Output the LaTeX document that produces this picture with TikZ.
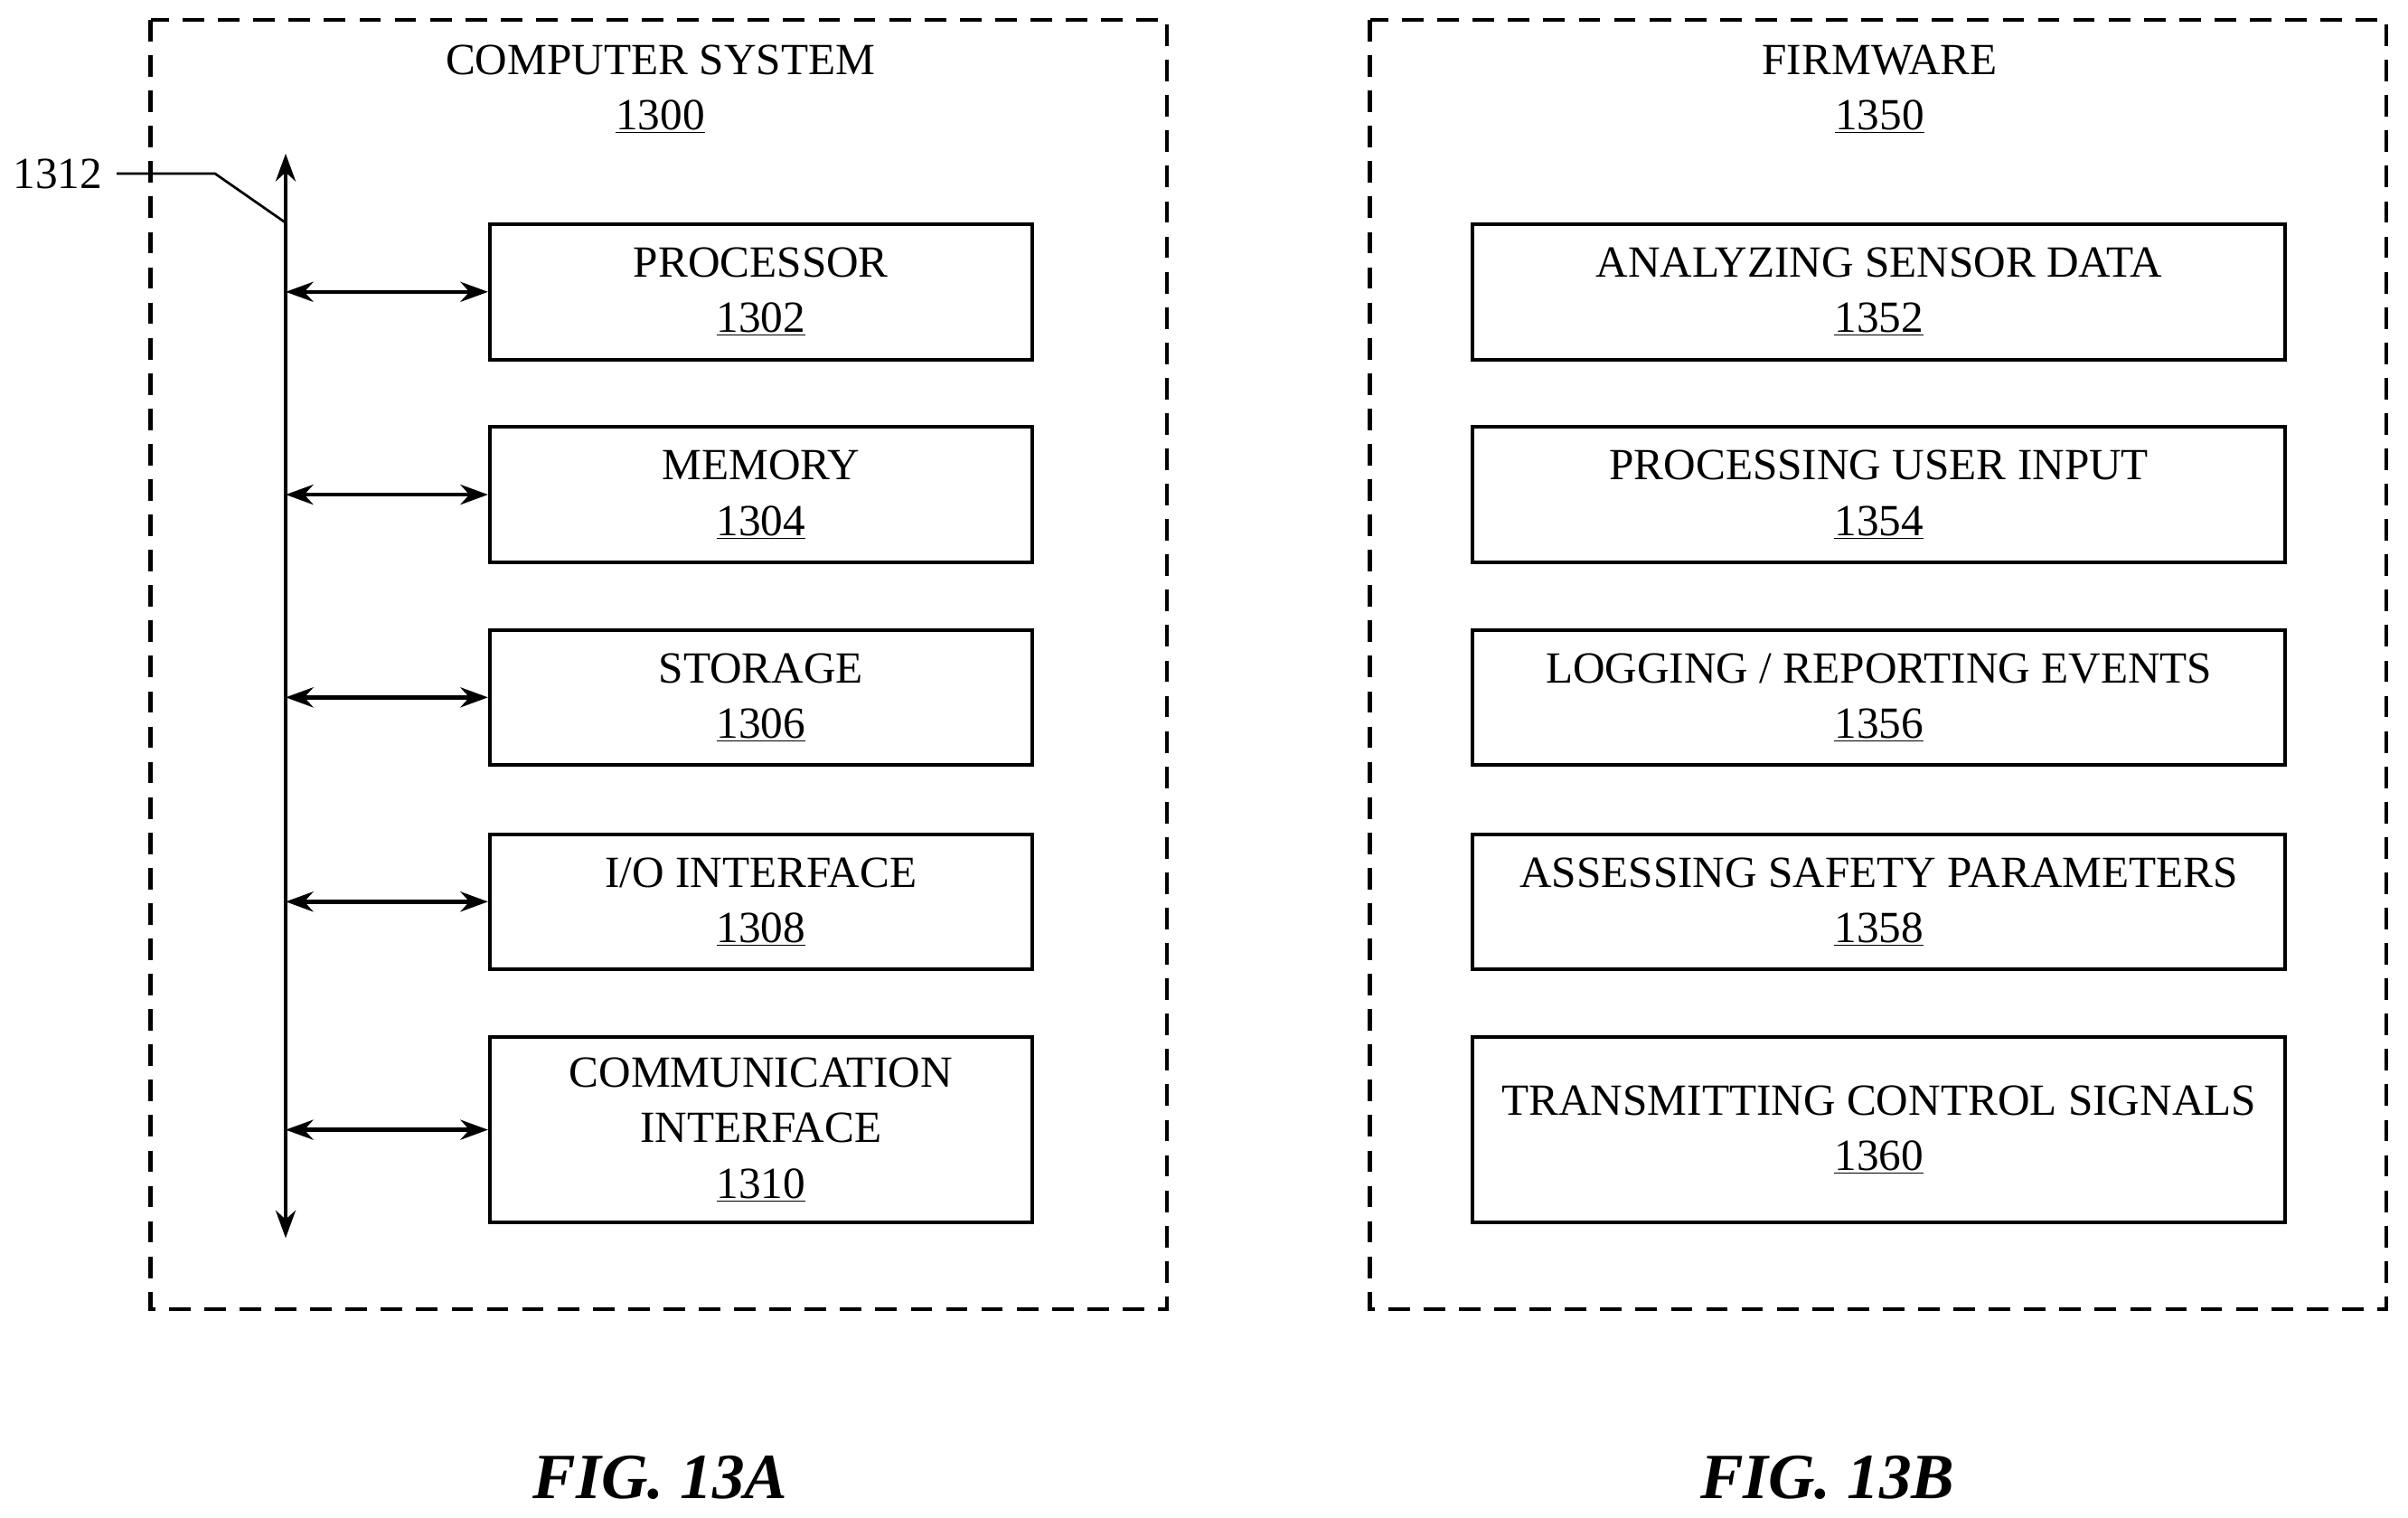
\documentclass[tikz,border=0pt]{standalone}
\usepackage{fontspec}
\setmainfont{Liberation Serif}
\usetikzlibrary{arrows.meta}
\tikzset{
  block/.style={rectangle, draw=black, line width=2.4pt, minimum width=353pt, align=center, font=\fontsize{29}{36}\selectfont},
  fwblock/.style={block, minimum width=529pt},
  frame/.style={draw=black, line width=2.4pt, dash pattern=on 14pt off 9pt},
  arrow/.style={line width=2.6pt, {Stealth[length=18pt,width=13pt]}-{Stealth[length=18pt,width=13pt]}},
  title/.style={align=center, font=\fontsize{29}{36}\selectfont},
  fig/.style={font=\fontsize{42}{46}\selectfont\bfseries\itshape}
}
\begin{document}
\begin{tikzpicture}[x=1pt,y=1pt]
\useasboundingbox (0,0) rectangle (1568,-988);
% frames
\draw[frame] (98,-13) rectangle (760,-852);
\draw[frame] (892,-13) rectangle (1554,-852);
\node[title] (cs) at (430,-58) {COMPUTER SYSTEM\\\underline{1300}};
\node[title] (fw) at (1224,-58) {FIRMWARE\\\underline{1350}};
% computer system blocks
\node (proc) [block, minimum height=88pt] at (495.5,-190) {PROCESSOR\\\underline{1302}};
\node (mem) [block, minimum height=88pt] at (495.5,-322) {MEMORY\\\underline{1304}};
\node (stor) [block, minimum height=88pt] at (495.5,-454) {STORAGE\\\underline{1306}};
\node (io) [block, minimum height=88pt] at (495.5,-587) {I/O INTERFACE\\\underline{1308}};
\node (comm) [block, minimum height=121pt] at (495.5,-735.5) {COMMUNICATION\\INTERFACE\\\underline{1310}};
% bus
\coordinate (bustop) at (186,-100);
\coordinate (busbot) at (186,-806);
\draw[arrow] (bustop) -- (busbot);
\foreach \n in {proc,mem,stor,io,comm}
  \draw[arrow] (bustop |- \n.west) -- (\n.west);
\node (bus) [title, anchor=east] at (70,-113) {1312};
\draw[line width=1.6pt] (bus.east) ++(6,0) -- (140,-113) -- (186,-145);
% firmware blocks
\node (f1) [fwblock, minimum height=88pt] at (1223.5,-190) {ANALYZING SENSOR DATA\\\underline{1352}};
\node (f2) [fwblock, minimum height=88pt] at (1223.5,-322) {PROCESSING USER INPUT\\\underline{1354}};
\node (f3) [fwblock, minimum height=88pt] at (1223.5,-454) {LOGGING / REPORTING EVENTS\\\underline{1356}};
\node (f4) [fwblock, minimum height=88pt] at (1223.5,-587) {ASSESSING SAFETY PARAMETERS\\\underline{1358}};
\node (f5) [fwblock, minimum height=121pt] at (1223.5,-735.5) {TRANSMITTING CONTROL SIGNALS\\\underline{1360}};
% captions
\node (figa) [fig] at (430,-962) {FIG. 13A};
\node (figb) [fig] at (1190,-962) {FIG. 13B};
\end{tikzpicture}
\end{document}
